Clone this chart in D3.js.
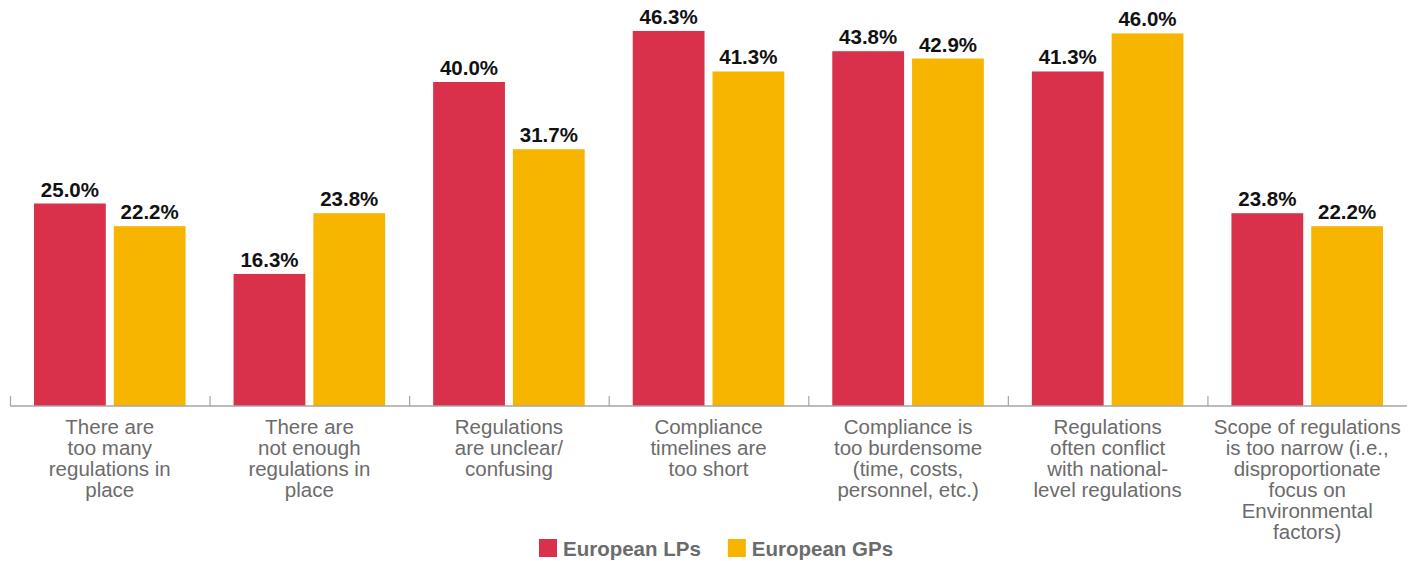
<!DOCTYPE html>
<html>
<head>
<meta charset="utf-8">
<script src="https://cdn.jsdelivr.net/npm/d3@7"></script>
<style>
  body { margin: 0; background: #fff; }
  svg { display: block; font-family: "Liberation Sans", Arial, Helvetica, sans-serif; }
</style>
</head>
<body>
<svg id="chart"></svg>
<script>
// Categories (line breaks as in the original)
const categories = [
  "There are\ntoo many\nregulations in\nplace",
  "There are\nnot enough\nregulations in\nplace",
  "Regulations\nare unclear/\nconfusing",
  "Compliance\ntimelines are\ntoo short",
  "Compliance is\ntoo burdensome\n(time, costs,\npersonnel, etc.)",
  "Regulations\noften conflict\nwith national-\nlevel regulations",
  "Scope of regulations\nis too narrow (i.e.,\ndisproportionate\nfocus on\nEnvironmental\nfactors)"
];

const seriesNames = ["European LPs", "European GPs"];
const lpValues = [25.0, 16.3, 40.0, 46.3, 43.8, 41.3, 23.8];
const gpValues = [22.2, 23.8, 31.7, 41.3, 42.9, 46.0, 22.2];
const colors = ["#D9304B", "#F8B500"];

const width = 1419;
const height = 561;
const baseY = 406;

const svg = d3.select("#chart")
  .attr("width", width)
  .attr("height", height);

// Scales
const xScale = d3.scaleBand()
  .domain(d3.range(categories.length))
  .range([10, 1407])
  .paddingInner(0)
  .paddingOuter(0);

const xInner = d3.scaleBand()
  .domain(seriesNames)
  .range([24, xScale.bandwidth() - 24])
  .paddingInner(0.1);

const yScale = d3.scaleLinear().domain([0, 50]).range([baseY, 1]);

const rows = categories.map((c, i) => ({
  cat: i,
  values: [
    { series: seriesNames[0], value: lpValues[i] },
    { series: seriesNames[1], value: gpValues[i] }
  ]
}));

const groups = svg.selectAll(".group")
  .data(rows)
  .enter()
  .append("g")
  .attr("class", "group")
  .attr("transform", (d) => `translate(${xScale(d.cat)},0)`);

// bars
groups.selectAll("rect")
  .data((d) => d.values)
  .enter()
  .append("rect")
  .attr("x", (d) => xInner(d.series))
  .attr("y", (d) => yScale(d.value))
  .attr("width", xInner.bandwidth())
  .attr("height", (d) => baseY - yScale(d.value))
  .attr("fill", (d, i) => colors[i]);

// value labels
groups.selectAll(".val")
  .data((d) => d.values)
  .enter()
  .append("text")
  .attr("class", "val")
  .attr("x", (d) => xInner(d.series) + xInner.bandwidth() / 2)
  .attr("y", (d) => yScale(d.value) - 7)
  .attr("text-anchor", "middle")
  .style("font-size", "20.5px")
  .style("font-weight", "bold")
  .style("fill", "#111")
  .text((d) => d.value.toFixed(1) + "%");

// axis line
svg.append("line")
  .attr("x1", xScale.range()[0])
  .attr("x2", xScale.range()[1])
  .attr("y1", baseY)
  .attr("y2", baseY)
  .attr("stroke", "#a6a6a6")
  .attr("stroke-width", 1.5);

// ticks pointing up at group boundaries
svg.selectAll(".tick")
  .data(xScale.domain())
  .enter()
  .append("line")
  .attr("class", "tick")
  .attr("x1", (d) => xScale(d) + 0.5)
  .attr("x2", (d) => xScale(d) + 0.5)
  .attr("y1", baseY - 10)
  .attr("y2", baseY)
  .attr("stroke", "#a6a6a6")
  .attr("stroke-width", 1.2);

// category labels
const catLabels = svg.selectAll(".cat")
  .data(categories)
  .enter()
  .append("text")
  .attr("class", "cat")
  .attr("text-anchor", "middle")
  .style("font-size", "20.5px")
  .style("fill", "#6b6b6b");

catLabels.each(function (d, i) {
  const t = d3.select(this);
  d.split("\n").forEach((line, j) => {
    t.append("tspan")
      .attr("x", xScale(i) + xScale.bandwidth() / 2)
      .attr("y", 434 + j * 21)
      .text(line);
  });
});

// legend
const legend = svg.append("g").attr("class", "legend");
const legendItems = legend.selectAll("g")
  .data(seriesNames)
  .enter()
  .append("g");

legendItems.append("rect")
  .attr("y", 539)
  .attr("width", 18)
  .attr("height", 18)
  .attr("fill", (d, i) => colors[i]);

legendItems.append("text")
  .attr("x", 24)
  .attr("y", 556)
  .style("font-size", "20.5px")
  .style("font-weight", "bold")
  .style("fill", "#6b6b6b")
  .text((d) => d);

let lx = 539;
legendItems.each(function () {
  const g = d3.select(this);
  g.attr("transform", `translate(${lx},0)`);
  lx += this.getBBox().width + 27;
});
</script>
</body>
</html>
